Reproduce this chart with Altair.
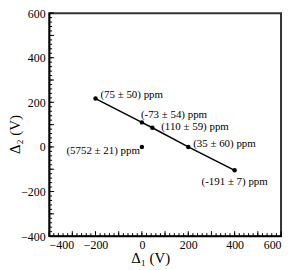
import altair as alt
import pandas as pd

# data
d1 = [-200, 0, 45, 200, 400, 0]
d2 = [217, 110, 86, 0, -105, 0]
labels = ["(75 ± 50) ppm", "(-73 ± 54) ppm", "(110 ± 59) ppm",
          "(35 ± 60) ppm", "(-191 ± 7) ppm", "(5752 ± 21) ppm"]
on_line = [True, True, True, True, True, False]

tick_labels = [-400, -200, 0, 200, 400, 600]
major_ticks = list(range(-400, 601, 100))
minor_ticks = list(range(-400, 601, 20))

W, H = 234, 225
FONT = "Liberation Serif"

df = pd.DataFrame({"d1": d1, "d2": d2, "label": labels,
                   "on_line": on_line, "idx": list(range(len(d1)))})
df_major = pd.DataFrame({"v": major_ticks})
df_minor = pd.DataFrame({"v": minor_ticks})

xs = alt.Scale(domain=[-400, 600], nice=False, zero=False)
ys = alt.Scale(domain=[-400, 600], nice=False, zero=False)

xaxis = alt.Axis(values=tick_labels, title="Δ₁ (V)", ticks=False, grid=False,
                 labelFont=FONT, labelFontSize=12, labelColor="black", labelPadding=3,
                 titleFont=FONT, titleFontSize=15, titleFontWeight="normal",
                 titleColor="black", titleX=102, titleY=15,
                 domainColor="black", domainWidth=1.5)
yaxis = alt.Axis(values=tick_labels, title="Δ₂ (V)", ticks=False, grid=False,
                 labelFont=FONT, labelFontSize=12, labelColor="black", labelPadding=4,
                 titleFont=FONT, titleFontSize=15, titleFontWeight="normal",
                 titleColor="black", titleX=-27, titleY=122,
                 domainColor="black", domainWidth=1.5)

X = alt.X("d1:Q", scale=xs, axis=xaxis)
Y = alt.Y("d2:Q", scale=ys, axis=yaxis)

line = alt.Chart(df).transform_filter(alt.datum.on_line).mark_line(
    color="black", strokeWidth=1.5).encode(x=X, y=Y)
pts = alt.Chart(df).mark_circle(color="black", opacity=1, size=20).encode(x=X, y=Y)

# (dx, dy, align) per label
offsets = [(5, -4, "left"), (-1, -7, "left"), (9, -1, "left"),
           (5, -3, "left"), (0, 12, "center"), (-2, 4, "right")]
texts = []
for i, (dx, dy, al) in enumerate(offsets):
    texts.append(
        alt.Chart(df).transform_filter(alt.datum.idx == i).mark_text(
            font=FONT, fontSize=11, color="black", dx=dx, dy=dy, align=al,
            baseline="middle").encode(x=X, y=Y, text="label:N"))

# inward ticks
def xticks(d, ln):
    return alt.Chart(d).mark_rule(color="black", strokeWidth=1).encode(
        x=alt.X("v:Q", scale=xs, axis=xaxis), y=alt.value(H), y2=alt.value(H - ln))

def yticks(d, ln):
    return alt.Chart(d).mark_rule(color="black", strokeWidth=1).encode(
        y=alt.Y("v:Q", scale=ys, axis=yaxis), x=alt.value(0), x2=alt.value(ln))

chart = alt.layer(
    line, pts, *texts,
    xticks(df_major, 5), xticks(df_minor, 3),
    yticks(df_major, 5), yticks(df_minor, 3),
).properties(
    width=W, height=H,
    autosize=alt.AutoSizeParams(type="none"),
    padding={"left": 41.5, "top": 4, "right": 3, "bottom": 32},
).configure_view(stroke="#333333", strokeWidth=2)

chart.save("out.html", embed_options={"renderer": "svg", "actions": False})
